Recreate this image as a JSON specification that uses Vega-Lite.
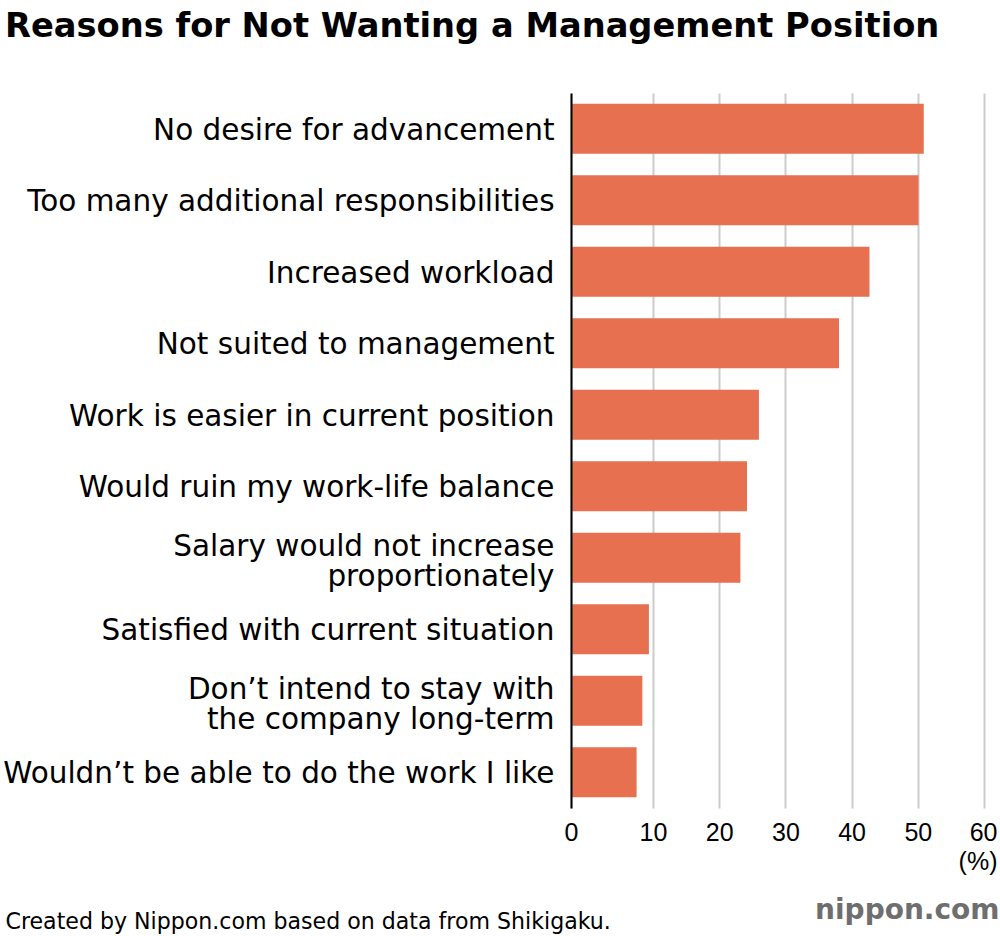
{
  "$schema": "https://vega.github.io/schema/vega-lite/v6.json",
  "width": 413,
  "height": 715,
  "autosize": {"type": "none"},
  "padding": {"left": 571, "top": 93, "right": 16, "bottom": 128},
  "background": "white",
  "config": {
    "font": "Liberation Sans",
    "view": {"stroke": null}
  },
  "title": {
    "text": "Reasons for Not Wanting a Management Position",
    "anchor": "start",
    "frame": "group",
    "orient": "top",
    "dx": -566,
    "offset": 22,
    "baseline": "alphabetic",
    "font": "DejaVu Sans",
    "fontSize": 33.7,
    "fontWeight": "bold",
    "color": "black"
  },
  "data": {
    "values": [
      {"reason": "No desire for advancement", "value": 50.9},
      {"reason": "Too many additional responsibilities", "value": 50.1},
      {"reason": "Increased workload", "value": 42.7},
      {"reason": "Not suited to management", "value": 38.1},
      {"reason": "Work is easier in current position", "value": 26.0},
      {"reason": "Would ruin my work-life balance", "value": 24.2},
      {"reason": "Salary would not increase|proportionately", "value": 23.2},
      {"reason": "Satisfied with current situation", "value": 9.5},
      {"reason": "Don’t intend to stay with|the company long-term", "value": 8.7},
      {"reason": "Wouldn’t be able to do the work I like", "value": 8.0}
    ]
  },
  "mark": {"type": "bar", "color": "#E6704F"},
  "encoding": {
    "y": {
      "field": "reason",
      "type": "nominal",
      "sort": null,
      "scale": {"paddingInner": 0.3, "paddingOuter": 0.15},
      "axis": {
        "orient": "left",
        "zindex": 1,
        "domain": true,
        "domainColor": "black",
        "domainWidth": 2,
        "ticks": false,
        "grid": false,
        "labelPadding": 17,
        "labelFont": "DejaVu Sans",
        "labelFontSize": 29.5,
        "labelColor": "black",
        "labelLimit": 0,
        "labelLineHeight": 30,
        "labelOffset": {"condition": {"test": "indexof(datum.value, '|') >= 0", "value": -11}, "value": 2},
        "labelExpr": "split(datum.label, '|')",
        "title": "nippon.com",
        "titleAngle": 0,
        "titleX": 428,
        "titleY": 825,
        "titleAlign": "right",
        "titleBaseline": "alphabetic",
        "titleFont": "DejaVu Sans",
        "titleFontSize": 28,
        "titleFontWeight": "bold",
        "titleColor": "#6e6e6e"
      }
    },
    "x": {
      "field": "value",
      "type": "quantitative",
      "scale": {"domain": [0, 10, 60], "range": [0, 82, 413], "nice": false},
      "axis": {
        "orient": "bottom",
        "values": [0, 10, 20, 30, 40, 50, 60],
        "domain": false,
        "ticks": false,
        "grid": true,
        "gridColor": "#cccccc",
        "gridWidth": 2,
        "labelFontSize": 25,
        "labelColor": "black",
        "labelPadding": 12,
        "labelFlush": false,
        "labelOverlap": false,
        "labelBound": false,
        "labelLineHeight": 29,
        "labelAlign": {"condition": {"test": "datum.value == 60", "value": "right"}, "value": "center"},
        "labelOffset": {"condition": {"test": "datum.value == 60", "value": 13}, "value": 0},
        "labelExpr": "datum.value == 60 ? ['60', '(%)'] : datum.label",
        "title": "Created by Nippon.com based on data from Shikigaku.",
        "titleX": -566,
        "titleY": 120,
        "titleAlign": "left",
        "titleAnchor": "start",
        "titleBaseline": "alphabetic",
        "titleFont": "DejaVu Sans",
        "titleFontSize": 22.1,
        "titleFontWeight": "normal",
        "titleColor": "black"
      }
    }
  }
}
